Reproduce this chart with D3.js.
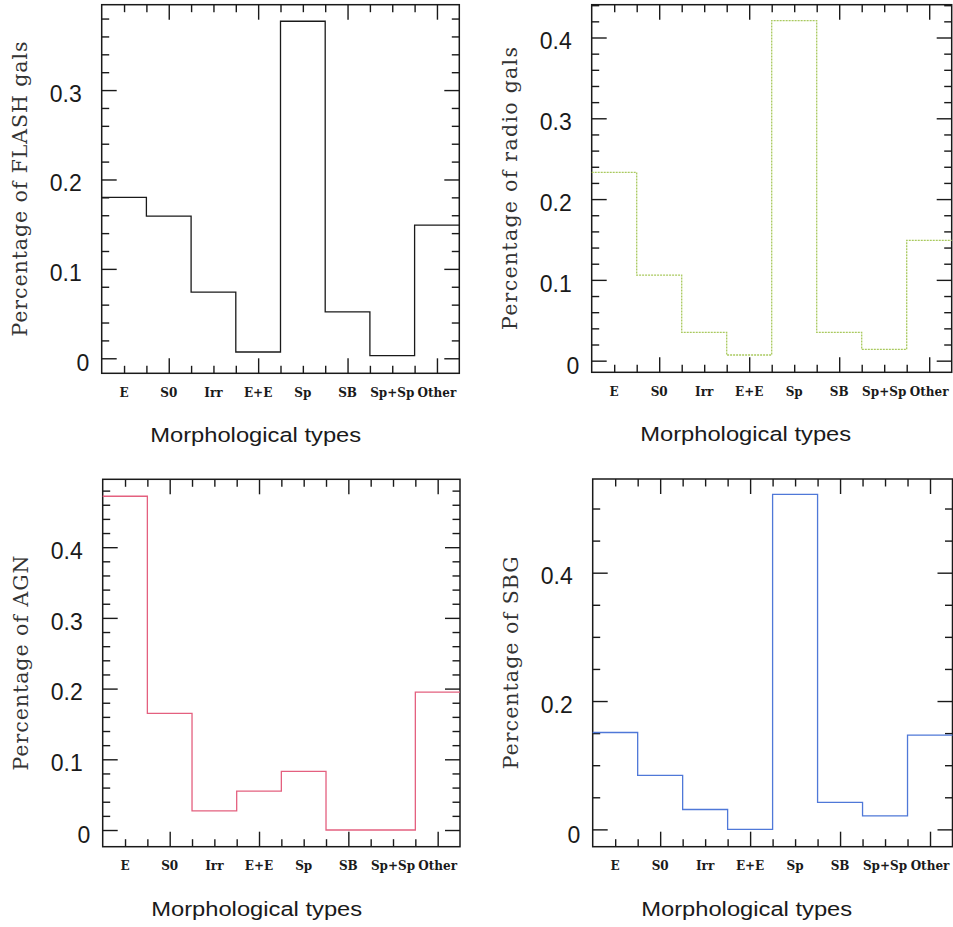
<!DOCTYPE html>
<html>
<head>
<meta charset="utf-8">
<script src="https://cdn.jsdelivr.net/npm/d3@7"></script>
<style>
  html, body { margin: 0; padding: 0; background: #fff; }
  svg { display: block; }
</style>
</head>
<body>
<svg id="chart" width="953" height="927"></svg>
<script>
// ---------------- data ----------------
const categories = ["E", "S0", "Irr", "E+E", "Sp", "SB", "Sp+Sp", "Other"];
const flashValues = [0.180, 0.159, 0.074, 0.007, 0.377, 0.052, 0.003, 0.149];
const radioValues = [0.233, 0.106, 0.035, 0.007, 0.421, 0.035, 0.014, 0.149];
const agnValues   = [0.472, 0.165, 0.027, 0.055, 0.083, 0.000, 0.000, 0.195];
const sbgValues   = [0.151, 0.084, 0.031, 0.000, 0.522, 0.042, 0.021, 0.147];

const yTitles = ["Percentage of FLASH gals", "Percentage of radio gals", "Percentage of AGN", "Percentage of SBG"];
const xTitle = "Morphological types";

const yDomains = [[-0.0168, 0.3955], [-0.0144, 0.4406], [-0.0236, 0.496], [-0.027, 0.546]];
const yMajorTicks = [[0, 0.1, 0.2, 0.3], [0, 0.1, 0.2, 0.3, 0.4], [0, 0.1, 0.2, 0.3, 0.4], [0, 0.2, 0.4]];
const yMinorSteps = [0.02, 0.02, 0.02, 0.05];
const xMajorTicks = [2, 4, 6, 8];
const xMinorStep = 0.5;

// ---------------- layout ----------------
const seriesList = [flashValues, radioValues, agnValues, sbgValues];
const frames = [
  { left: 101.7, right: 459.3, top: 4.7, bottom: 373.3 },
  { left: 591.7, right: 951.7, top: 4.7, bottom: 372.3 },
  { left: 102.7, right: 460.0, top: 479.3, bottom: 846.7 },
  { left: 592.7, right: 952.5, top: 479.0, bottom: 846.7 }
];
const strokes = [
  { color: "#1a1a1a", dash: null, width: 1.3 },
  { color: "#a9c95e", dash: "2,1", width: 1.3 },
  { color: "#e4607f", dash: null, width: 1.3 },
  { color: "#4f78d8", dash: null, width: 1.3 }
];
const yTitleLengths = [295, 283, 215, 213];

const svg = d3.select("#chart");
const fmt = v => v === 0 ? "0" : d3.format(".1f")(v);

seriesList.forEach((vals, p) => {
  const f = frames[p];
  const x = d3.scaleLinear().domain([0.5, categories.length + 0.5]).range([f.left, f.right]);
  const y = d3.scaleLinear().domain(yDomains[p]).range([f.bottom, f.top]);
  const g = svg.append("g");

  const majY = yMajorTicks[p];
  const step = yMinorSteps[p];
  const minY = d3.range(0, yDomains[p][1] + 1e-9, step)
    .filter(v => !majY.some(m => Math.abs(m - v) < 1e-9));
  const minX = d3.range(1, categories.length + 0.5 + 1e-9, xMinorStep)
    .filter(v => !xMajorTicks.includes(v) && v < categories.length + 0.5);

  const tickStyle = sel => {
    sel.select(".domain").remove();
    sel.selectAll("line").attr("stroke", "#1a1a1a").attr("stroke-width", 1.4);
    sel.selectAll("text").remove();
  };
  // left & right ticks
  g.append("g").attr("transform", `translate(${f.left},0)`)
    .call(d3.axisLeft(y).tickValues(majY).tickSize(-15).tickFormat("")).call(tickStyle);
  g.append("g").attr("transform", `translate(${f.left},0)`)
    .call(d3.axisLeft(y).tickValues(minY).tickSize(-7.5).tickFormat("")).call(tickStyle);
  g.append("g").attr("transform", `translate(${f.right},0)`)
    .call(d3.axisRight(y).tickValues(majY).tickSize(-15).tickFormat("")).call(tickStyle);
  g.append("g").attr("transform", `translate(${f.right},0)`)
    .call(d3.axisRight(y).tickValues(minY).tickSize(-7.5).tickFormat("")).call(tickStyle);
  // bottom & top ticks
  g.append("g").attr("transform", `translate(0,${f.bottom})`)
    .call(d3.axisBottom(x).tickValues(xMajorTicks).tickSize(-15).tickFormat("")).call(tickStyle);
  g.append("g").attr("transform", `translate(0,${f.bottom})`)
    .call(d3.axisBottom(x).tickValues(minX).tickSize(-7.5).tickFormat("")).call(tickStyle);
  g.append("g").attr("transform", `translate(0,${f.top})`)
    .call(d3.axisTop(x).tickValues(xMajorTicks).tickSize(-15).tickFormat("")).call(tickStyle);
  g.append("g").attr("transform", `translate(0,${f.top})`)
    .call(d3.axisTop(x).tickValues(minX).tickSize(-7.5).tickFormat("")).call(tickStyle);

  // frame
  g.append("rect")
    .attr("x", f.left).attr("y", f.top)
    .attr("width", f.right - f.left).attr("height", f.bottom - f.top)
    .attr("fill", "none").attr("stroke", "#1a1a1a").attr("stroke-width", 1.5);

  // step histogram
  const pts = [];
  vals.forEach((v, i) => { pts.push([i + 0.5, v]); pts.push([i + 1.5, v]); });
  const line = d3.line().x(d => x(d[0])).y(d => y(d[1]));
  const s = strokes[p];
  g.append("path")
    .attr("d", line(pts))
    .attr("fill", "none")
    .attr("stroke", s.color)
    .attr("stroke-width", s.width)
    .attr("stroke-dasharray", s.dash);

  // y tick labels
  g.selectAll(".ylab").data(majY).enter().append("text")
    .attr("x", d => d === 0 ? f.left - 12.5 : f.left - 20)
    .attr("y", d => y(d) + (d === 0 ? 13.2 : 11.7))
    .attr("text-anchor", "end")
    .attr("font-family", "'Liberation Sans', Arial, Helvetica, sans-serif")
    .attr("font-size", 23)
    .attr("fill", "#1a1a1a")
    .text(fmt);

  // x tick labels (categories)
  g.selectAll(".xlab").data(categories).enter().append("text")
    .attr("x", (d, i) => x(i + 1))
    .attr("y", f.bottom + 23.2)
    .attr("text-anchor", "middle")
    .attr("font-family", "'DejaVu Serif', serif")
    .attr("font-weight", "bold")
    .attr("font-size", 12)
    .attr("fill", "#1a1a1a")
    .text(d => d);

  // x title
  g.append("text")
    .attr("x", f.left + 48.5)
    .attr("y", f.bottom + 68.8)
    .attr("text-anchor", "start")
    .attr("font-family", "'Liberation Sans', Arial, Helvetica, sans-serif")
    .attr("font-size", 20.5)
    .attr("textLength", 211)
    .attr("lengthAdjust", "spacingAndGlyphs")
    .attr("fill", "#1a1a1a")
    .text(xTitle);

  // y title
  const cy = (f.top + f.bottom) / 2;
  g.append("text")
    .attr("transform", `translate(${f.left - 75},${cy}) rotate(-90)`)
    .attr("text-anchor", "middle")
    .attr("font-family", "'DejaVu Serif', serif")
    .attr("font-size", 20.5)
    .attr("textLength", yTitleLengths[p])
    .attr("lengthAdjust", "spacing")
    .attr("fill", "#333")
    .text(yTitles[p]);
});
</script>
</body>
</html>
